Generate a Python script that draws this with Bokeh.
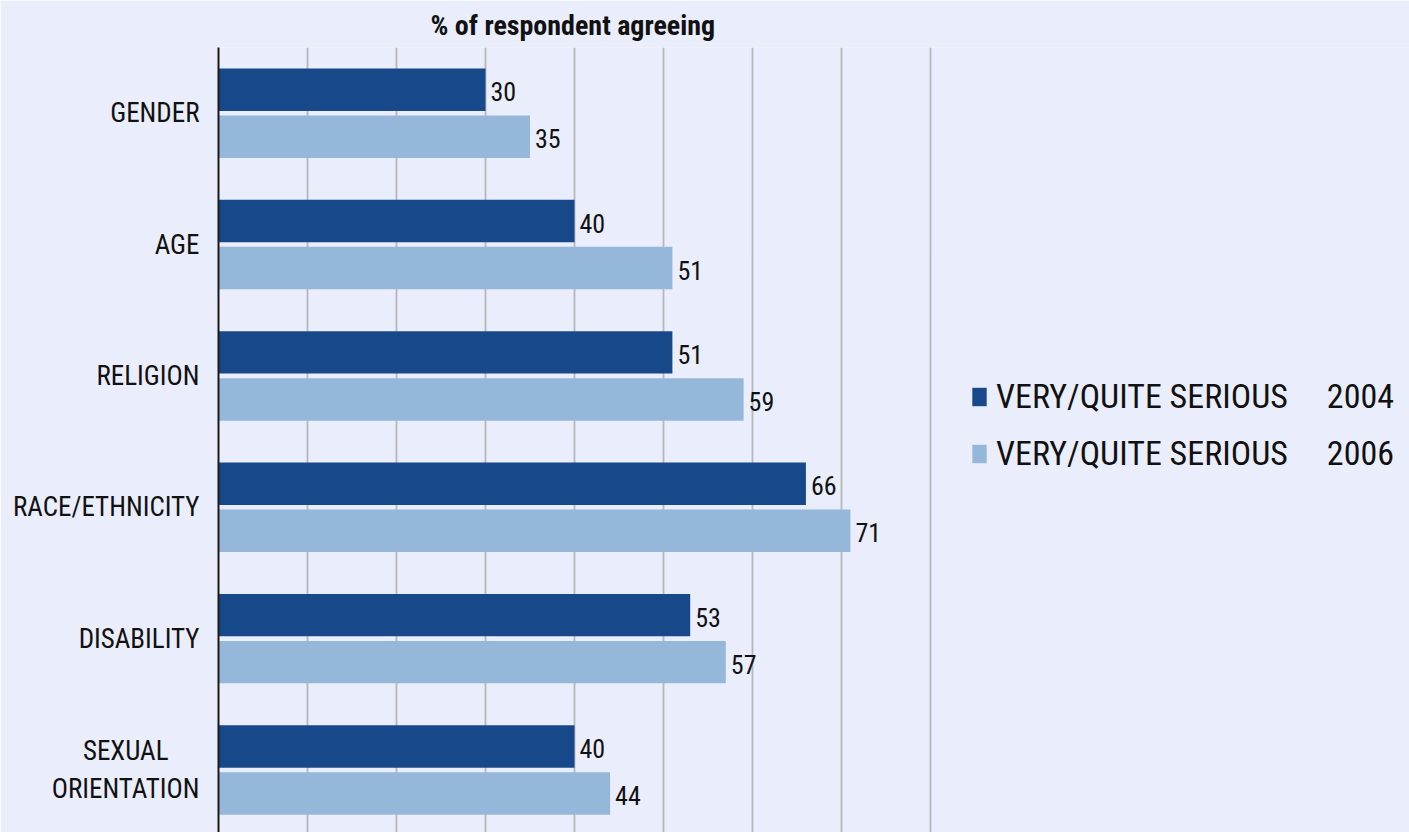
from bokeh.plotting import figure
from bokeh.models import Range1d, FixedTicker, Grid, Legend, LegendItem, ColumnDataSource
from bokeh.core.properties import value
from bokeh.embed import file_html
from bokeh.resources import INLINE

# ---- data ----
categories = ["GENDER", "AGE", "RELIGION", "RACE/ETHNICITY", "DISABILITY", "SEXUAL\nORIENTATION"]
values_2004 = [30, 40, 51, 66, 53, 40]
values_2006 = [35, 51, 59, 71, 57, 44]
series_label = "VERY/QUITE SERIOUS"
series_years = ["2004", "2006"]
title_text = "% of respondent agreeing"
grid_ticks = [10, 20, 30, 40, 50, 60, 70, 80]

# ---- style ----
FONT = "Roboto Condensed"
BG = "#EAEDFC"
DARK = "#17498A"
LIGHT = "#95B8DA"
TXT = "#111111"
NBSP = "\u00a0"

W, H = 1409, 832
LEFT, TOP = 218, 47
PX_PER_UNIT = 8.9       # pixels per percentage point
PX_PER_CAT = 131.36     # pixels per category band

pos = [i + 1 for i in range(len(categories))]
OFF = 0.179
BAR_H = 0.323


def display_label(c):
    # centre the first line of a two-line label over the second (right-aligned axis labels)
    if "\n" in c:
        a, b = c.split("\n")
        return a + NBSP * 5 + "\n" + b
    return c


src04 = ColumnDataSource(dict(y=[q - OFF for q in pos], v=values_2004, t=[str(v) for v in values_2004]))
src06 = ColumnDataSource(dict(y=[q + OFF for q in pos], v=values_2006, t=[str(v) for v in values_2006]))

XMAX = (W - LEFT) / PX_PER_UNIT
YBOT = 0.5 + (H - TOP) / PX_PER_CAT
p = figure(width=W, height=H, output_backend="svg", toolbar_location=None,
           x_range=Range1d(0, XMAX), y_range=Range1d(YBOT, 0.5),
           x_axis_location=None, y_axis_location="left",
           min_border_left=LEFT, min_border_right=0, min_border_top=TOP, min_border_bottom=0,
           background_fill_color=BG, border_fill_color=BG, outline_line_color=None,
           title=title_text)

for g in p.grid:
    g.visible = False
p.add_layout(Grid(dimension=0, ticker=FixedTicker(ticks=grid_ticks),
                  grid_line_color="#B8B8B8", grid_line_width=1.8))

p.title.align = "left"
p.title.offset = 212
p.title.standoff = 12
p.title.text_font = FONT
p.title.text_font_size = "28px"
p.title.text_font_style = "bold"
p.title.text_color = TXT

ax = p.yaxis[0]
ax.ticker = FixedTicker(ticks=pos)
ax.major_label_overrides = {pos[i]: display_label(categories[i]) for i in range(len(categories))}
ax.major_tick_out = 0
ax.major_tick_in = 0
ax.minor_tick_out = 0
ax.minor_tick_in = 0
ax.axis_line_width = 2
ax.axis_line_color = "#1A1A1A"
ax.major_label_standoff = 19
ax.major_label_text_font = FONT
ax.major_label_text_font_size = "27px"
ax.major_label_text_color = TXT

r04 = p.hbar(y="y", left=0, right="v", height=BAR_H, source=src04, fill_color=DARK, line_color=None)
r06 = p.hbar(y="y", left=0, right="v", height=BAR_H, source=src06, fill_color=LIGHT, line_color=None)

for s in (src04, src06):
    p.text(x="v", y="y", text="t", source=s, x_offset=5, y_offset=2,
           text_align="left", text_baseline="middle",
           text_font=value(FONT), text_font_size="26px", text_color=TXT)

gap = NBSP * 5
legend = Legend(items=[LegendItem(label=series_label + gap + series_years[0], renderers=[r04]),
                       LegendItem(label=series_label + gap + series_years[1], renderers=[r06])],
                location=(970 - LEFT, 359), glyph_width=18, glyph_height=23, label_standoff=8,
                spacing=17, padding=0, margin=0, border_line_color=None,
                background_fill_alpha=0, label_text_font=FONT, label_text_font_size="34px",
                label_text_color=TXT)
p.add_layout(legend)

open("out.html", "w").write(file_html(p, INLINE))
